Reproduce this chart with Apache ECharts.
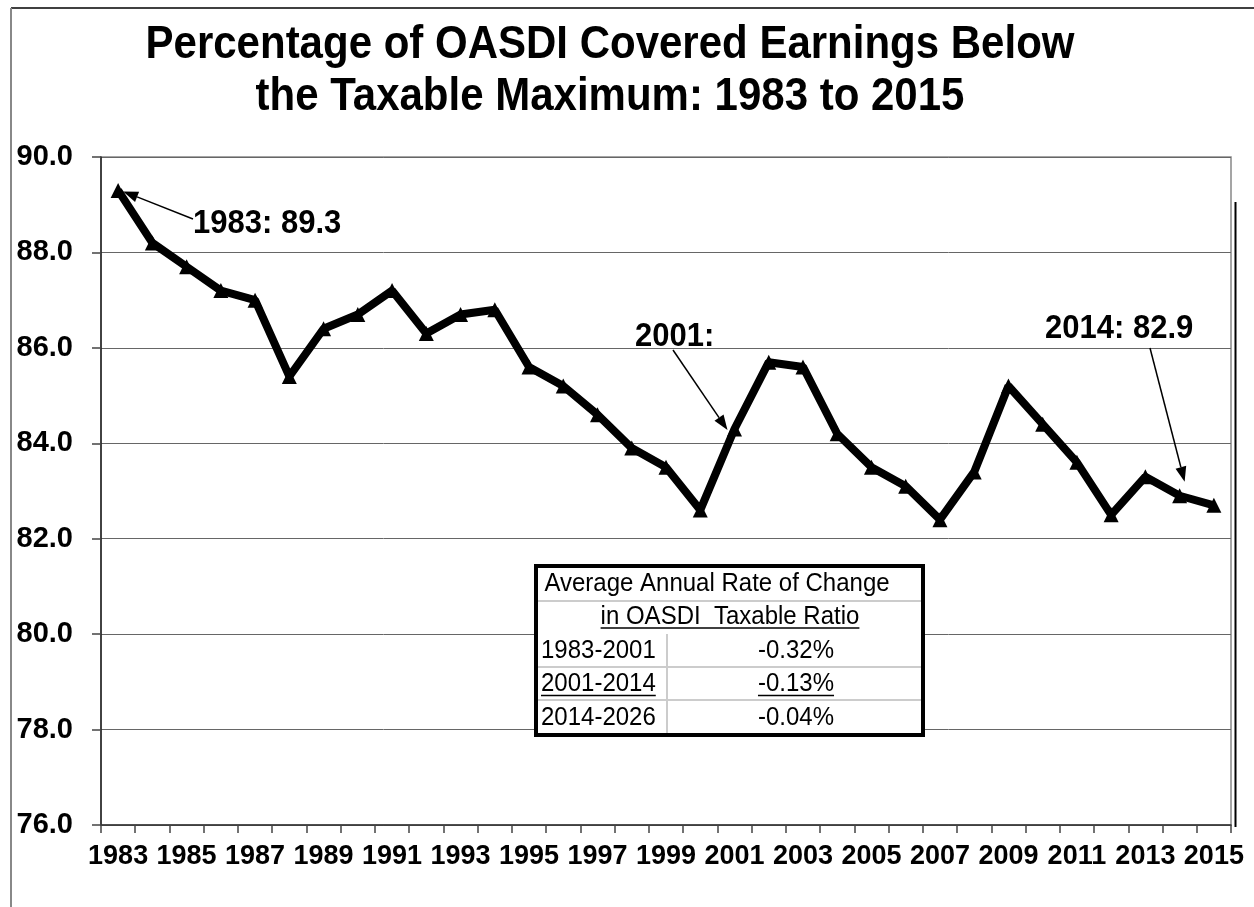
<!DOCTYPE html>
<html><head><meta charset="utf-8">
<script src="https://cdn.jsdelivr.net/npm/echarts@6/dist/echarts.min.js"></script>
<style>html,body{margin:0;padding:0;background:#fff}#c{width:1254px;height:907px}</style>
</head><body><div id="c"></div>
<script>
// ---- data ----
const years = ['1983','1984','1985','1986','1987','1988','1989','1990','1991','1992','1993',
  '1994','1995','1996','1997','1998','1999','2000','2001','2002','2003','2004','2005','2006',
  '2007','2008','2009','2010','2011','2012','2013','2014','2015'];
const ratio = [89.3,88.2,87.7,87.2,87.0,85.4,86.4,86.7,87.2,86.3,86.7,
  86.8,85.6,85.2,84.6,83.9,83.5,82.6,84.3,85.7,85.6,84.2,83.5,83.1,
  82.4,83.4,85.2,84.4,83.6,82.5,83.3,82.9,82.7];
const yMin = 76, yMax = 90, yStep = 2;
const titleLines = ['Percentage of OASDI Covered Earnings Below', 'the Taxable Maximum: 1983 to 2015'];
const tableTitle = ['Average Annual Rate of Change', 'in OASDI  Taxable Ratio'];
const tablePeriods = ['1983-2001', '2001-2014', '2014-2026'];
const tableRates = ['-0.32%', '-0.13%', '-0.04%'];
const calloutYears = ['1983', '2001', '2014'];
const calloutTexts = ['1983: 89.3', '2001:', '2014: 82.9'];

// ---- layout ----
const FONT = "'Liberation Sans', Arial, sans-serif";
const chart = echarts.init(document.getElementById('c'), null, {renderer: 'canvas'});

const option = {
  animation: false,
  backgroundColor: '#fff',
  grid: {left: 101, right: 23, top: 157, bottom: 82, show: true, borderColor: '#888', borderWidth: 1.5, containLabel: false},
  xAxis: {
    type: 'category', data: years, boundaryGap: true,
    axisLine: {lineStyle: {color: '#333', width: 1.5}},
    axisTick: {show: true, interval: 0, length: 8, lineStyle: {color: '#444', width: 1.5}},
    axisLabel: {interval: 1, color: '#000', fontFamily: FONT, fontWeight: 'bold', fontSize: 27, margin: 18},
    splitLine: {show: false}
  },
  yAxis: {
    type: 'value', min: yMin, max: yMax, interval: yStep,
    axisLine: {show: true, lineStyle: {color: '#222', width: 1.5}},
    axisTick: {show: true, length: 9, lineStyle: {color: '#444', width: 1.5}},
    axisLabel: {color: '#000', fontFamily: FONT, fontWeight: 'bold', fontSize: 29, margin: 28,
      formatter: v => v.toFixed(1)},
    splitLine: {show: true, lineStyle: {color: '#666', width: 1}}
  },
  series: [{
    type: 'line', data: ratio, symbol: 'triangle', symbolSize: 15,
    lineStyle: {color: '#000', width: 8},
    itemStyle: {color: '#000'},
    emphasis: {disabled: true}, z: 5
  }]
};
chart.setOption(option);

// ---- overlays ----
const ctx = document.createElement('canvas').getContext('2d');
function textW(t, font) { ctx.font = font; return ctx.measureText(t).width; }

function arrow(x1, y1, x2, y2) {
  const dx = x2 - x1, dy = y2 - y1, L = Math.hypot(dx, dy), ux = dx / L, uy = dy / L;
  const hl = 15, hw = 5.5;
  const bx = x2 - ux * hl, by = y2 - uy * hl;
  return [
    {type: 'line', z: 50, shape: {x1, y1, x2: bx, y2: by}, style: {stroke: '#000', lineWidth: 1.5}},
    {type: 'polygon', z: 50, shape: {points: [[x2, y2], [bx - uy * hw, by + ux * hw], [bx + uy * hw, by - ux * hw]]}, style: {fill: '#000'}}
  ];
}

const g = [];
// outer frame
g.push({type: 'line', z: 1, shape: {x1: 11, y1: 8, x2: 1254, y2: 8}, style: {stroke: '#000', lineWidth: 1.5}});
g.push({type: 'line', z: 1, shape: {x1: 11, y1: 8, x2: 11, y2: 907}, style: {stroke: '#888', lineWidth: 2}});
g.push({type: 'line', z: 1, shape: {x1: 1235.5, y1: 202, x2: 1235.5, y2: 827}, style: {stroke: '#000', lineWidth: 2}});

// title
titleLines.forEach((t, i) => {
  g.push({type: 'text', z: 10, x: 610, y: 45 + i * 52, scaleY: 1.1,
    style: {text: t, fill: '#000', font: 'bold 42px ' + FONT, textAlign: 'center', textVerticalAlign: 'middle'}});
});

// callouts (text placement + arrows to the data points)
const calloutLayout = [
  {tx: 193, ty: 224, from: [193, 219], off: [5, 1]},
  {tx: 635, ty: 337, from: [673, 350], off: [-7, 1]},
  {tx: 1045, ty: 329, from: [1150, 348], off: [5, -14]}
];
calloutYears.forEach((yr, i) => {
  const idx = years.indexOf(yr);
  const p = chart.convertToPixel({gridIndex: 0}, [idx, ratio[idx]]);
  const L = calloutLayout[i];
  g.push({type: 'text', z: 50, x: L.tx, y: L.ty, scaleY: 1.05,
    style: {text: calloutTexts[i], fill: '#000', font: 'bold 31px ' + FONT, textAlign: 'left', textVerticalAlign: 'middle'}});
  arrow(L.from[0], L.from[1], p[0] + L.off[0], p[1] + L.off[1]).forEach(e => g.push(e));
});

// table
const TB = {x1: 536, y1: 566, x2: 923, y2: 735};
const rowY = [566, 601, 634, 667, 700, 735];
const divX = 667;
const tFont = '24px ' + FONT;
g.push({type: 'rect', z: 60, shape: {x: TB.x1, y: TB.y1, width: TB.x2 - TB.x1, height: TB.y2 - TB.y1},
  style: {fill: '#fff', stroke: null}});
[601, 667, 700].forEach(y => g.push({type: 'line', z: 61, shape: {x1: TB.x1, y1: y, x2: TB.x2, y2: y}, style: {stroke: '#ccc', lineWidth: 2}}));
g.push({type: 'line', z: 61, shape: {x1: divX, y1: 634, x2: divX, y2: TB.y2}, style: {stroke: '#ccc', lineWidth: 2}});
g.push({type: 'rect', z: 63, shape: {x: TB.x1, y: TB.y1, width: TB.x2 - TB.x1, height: TB.y2 - TB.y1},
  style: {fill: null, stroke: '#000', lineWidth: 4}});

function addText(t, x, y, align, underline) {
  g.push({type: 'text', z: 62, x, y, scaleY: 1.05, style: {text: t, fill: '#000', font: tFont, textAlign: align, textVerticalAlign: 'middle'}});
  if (underline) {
    const w = textW(t, tFont);
    const xs = align === 'center' ? x - w / 2 : x;
    g.push({type: 'line', z: 62, shape: {x1: xs, y1: y + 11, x2: xs + w, y2: y + 11}, style: {stroke: '#000', lineWidth: 1.5}});
  }
}
addText(tableTitle[0], 717, 584, 'center', false);
addText(tableTitle[1], 730, 617, 'center', true);
tablePeriods.forEach((p, i) => {
  const cy = (rowY[i + 2] + rowY[i + 3]) / 2 + 1;
  addText(p, 541, cy, 'left', i === 1);
  addText(tableRates[i], 796, cy, 'center', i === 1);
});

chart.setOption({graphic: {elements: g}});
</script>
</body></html>
